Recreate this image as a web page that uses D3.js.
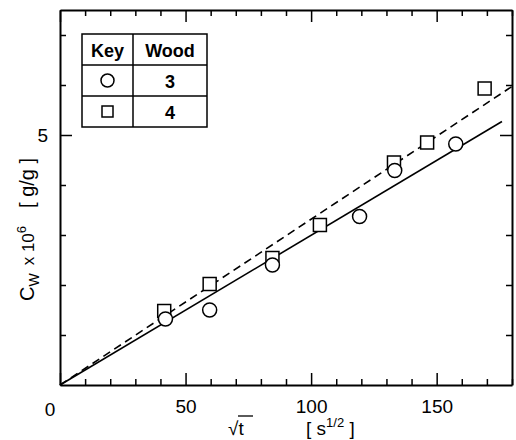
<!DOCTYPE html>
<html>
<head>
<meta charset="utf-8">
<script src="https://cdn.jsdelivr.net/npm/d3@7"></script>
<style>
  body { margin: 0; background: #fff; }
  svg { display: block; font-family: "Liberation Sans", Arial, sans-serif; }
</style>
</head>
<body>
<svg id="chart" width="516" height="440"></svg>
<script>
// sqrt(t) vs Cw x 10^6, two woods
const wood3X = [42, 59.6, 84.6, 119.3, 133.3, 157.6];
const wood3Y = [1.32, 1.5, 2.4, 3.37, 4.29, 4.82];
const wood4X = [41.5, 59.6, 84.6, 103.5, 133, 146.2, 169.1];
const wood4Y = [1.48, 2.02, 2.54, 3.2, 4.45, 4.85, 5.93];

// fitted lines through origin
const fit3 = [[0, 0], [176, 5.27]];
const fit4 = [[0, 0], [180, 5.97]];

const xTicks = d3.range(0, 181, 10);
const yTicks = [1, 2, 3, 4, 5, 6, 7];
const xLabels = [0, 50, 100, 150];
const yLabels = [5];

const legendRows = [
  { key: 'circle', wood: '3' },
  { key: 'square', wood: '4' },
];

const svg = d3.select('#chart');
const margin = { top: 10, right: 4, bottom: 55, left: 60 };
const width = 516;
const height = 440;

const x = d3.scaleLinear()
  .domain([0, 180])
  .range([margin.left, width - margin.right]);

const y = d3.scaleLinear()
  .domain([0, 7.5])
  .range([height - margin.bottom, margin.top]);

const fmtX = (d) => (xLabels.includes(d) && d !== 0 ? d : '');
const fmtY = (d) => (yLabels.includes(d) ? d : '');

// bottom axis, ticks pointing inward
const xb = svg.append('g')
  .attr('transform', `translate(0, ${y(0)})`)
  .call(d3.axisBottom(x).tickValues(xTicks).tickFormat(fmtX).tickSizeOuter(0).tickPadding(9));
xb.selectAll('.tick line').attr('y2', (d) => (d % 50 === 0 ? -12 : -6));

// top axis
const xt = svg.append('g')
  .attr('transform', `translate(0, ${y(7.5)})`)
  .call(d3.axisTop(x).tickValues(xTicks).tickFormat('').tickSizeOuter(0));
xt.selectAll('.tick line').attr('y2', (d) => (d % 50 === 0 ? 12 : 6));

// left axis
const yl = svg.append('g')
  .attr('transform', `translate(${x(0)}, 0)`)
  .call(d3.axisLeft(y).tickValues(yTicks).tickFormat(fmtY).tickSizeOuter(0).tickPadding(6));
yl.selectAll('.tick line').attr('x2', (d) => (d === 5 ? 12 : 6));

// right axis
const yr = svg.append('g')
  .attr('transform', `translate(${x(180)}, 0)`)
  .call(d3.axisRight(y).tickValues(yTicks).tickFormat('').tickSizeOuter(0));
yr.selectAll('.tick line').attr('x2', (d) => (d === 5 ? -12 : -6));

svg.selectAll('.domain').attr('stroke', '#000').attr('stroke-width', 2);
svg.selectAll('.tick line').attr('stroke', '#000').attr('stroke-width', 1.5);
svg.selectAll('.tick text')
  .attr('fill', '#000')
  .style('font-size', '19px')
  .style('font-family', '"Liberation Sans", Arial, sans-serif');

// origin label
svg.append('text')
  .attr('x', x(0) - 10)
  .attr('y', y(0) + 31)
  .attr('text-anchor', 'middle')
  .style('font-size', '19px')
  .text('0');

// fit lines
const line = d3.line().x((d) => x(d[0])).y((d) => y(d[1]));
svg.append('path')
  .datum(fit3)
  .attr('d', line)
  .attr('fill', 'none')
  .attr('stroke', '#000')
  .attr('stroke-width', 1.6);
svg.append('path')
  .datum(fit4)
  .attr('d', line)
  .attr('fill', 'none')
  .attr('stroke', '#000')
  .attr('stroke-width', 1.6)
  .attr('stroke-dasharray', '8,5');

// markers
svg.selectAll('.sq')
  .data(wood4X)
  .enter()
  .append('rect')
  .attr('x', (d) => x(d) - 6.5)
  .attr('y', (d, i) => y(wood4Y[i]) - 6.5)
  .attr('width', 13)
  .attr('height', 13)
  .attr('fill', '#fff')
  .attr('stroke', '#000')
  .attr('stroke-width', 1.5);

svg.selectAll('.ci')
  .data(wood3X)
  .enter()
  .append('circle')
  .attr('cx', (d) => x(d))
  .attr('cy', (d, i) => y(wood3Y[i]))
  .attr('r', 7)
  .attr('fill', '#fff')
  .attr('stroke', '#000')
  .attr('stroke-width', 1.5);

// legend table
const lg = { x0: 82, x1: 133, x2: 207, y0: 34, row: 31 };
const lgG = svg.append('g').attr('stroke', '#000').attr('stroke-width', 1.5);
lgG.append('rect')
  .attr('x', lg.x0).attr('y', lg.y0)
  .attr('width', lg.x2 - lg.x0).attr('height', lg.row * 3)
  .attr('fill', '#fff');
lgG.append('line').attr('x1', lg.x1).attr('x2', lg.x1).attr('y1', lg.y0).attr('y2', lg.y0 + lg.row * 3);
[1, 2].forEach((r) => {
  lgG.append('line')
    .attr('x1', lg.x0).attr('x2', lg.x2)
    .attr('y1', lg.y0 + lg.row * r).attr('y2', lg.y0 + lg.row * r);
});

svg.append('text')
  .attr('x', (lg.x0 + lg.x1) / 2).attr('y', lg.y0 + 23)
  .attr('text-anchor', 'middle').style('font-size', '18px').style('font-weight', 'bold')
  .text('Key');
svg.append('text')
  .attr('x', (lg.x1 + lg.x2) / 2).attr('y', lg.y0 + 23)
  .attr('text-anchor', 'middle').style('font-size', '18px').style('font-weight', 'bold')
  .text('Wood');

legendRows.forEach((r, i) => {
  const cy = lg.y0 + lg.row * (i + 1.5);
  const cx = (lg.x0 + lg.x1) / 2;
  if (r.key === 'circle') {
    svg.append('circle').attr('cx', cx).attr('cy', cy).attr('r', 6.5)
      .attr('fill', 'none').attr('stroke', '#000').attr('stroke-width', 1.5);
  } else {
    svg.append('rect').attr('x', cx - 5.5).attr('y', cy - 5.5).attr('width', 11).attr('height', 11)
      .attr('fill', 'none').attr('stroke', '#000').attr('stroke-width', 1.5);
  }
  svg.append('text')
    .attr('x', (lg.x1 + lg.x2) / 2).attr('y', cy + 7)
    .attr('text-anchor', 'middle').style('font-size', '18px').style('font-weight', 'bold')
    .text(r.wood);
});

// x axis label
const xl = svg.append('text')
  .attr('y', 435)
  .style('font-size', '19px');
xl.append('tspan').attr('x', 228).text('√t');
xl.append('tspan').attr('x', 306).text('[ s');
xl.append('tspan').attr('dy', -8).style('font-size', '13px').text('1/2');
xl.append('tspan').attr('dy', 8).text(' ]');
// radical bar over t
svg.append('line')
  .attr('x1', 238).attr('x2', 253)
  .attr('y1', 416).attr('y2', 416)
  .attr('stroke', '#000').attr('stroke-width', 1.3);

// y axis label
const ylab = svg.append('text')
  .attr('transform', 'translate(34, 301) rotate(-90)')
  .style('font-size', '20px');
ylab.append('tspan').text('C');
ylab.append('tspan').attr('dy', 5).style('font-size', '14px').text('W');
ylab.append('tspan').attr('dy', -5).attr('dx', 8).style('font-size', '17px').text('x 10');
ylab.append('tspan').attr('dy', -8).style('font-size', '13px').text('6');
ylab.append('tspan').attr('dy', 8).attr('dx', 18).text('[ g/g ]');
</script>
</body>
</html>
